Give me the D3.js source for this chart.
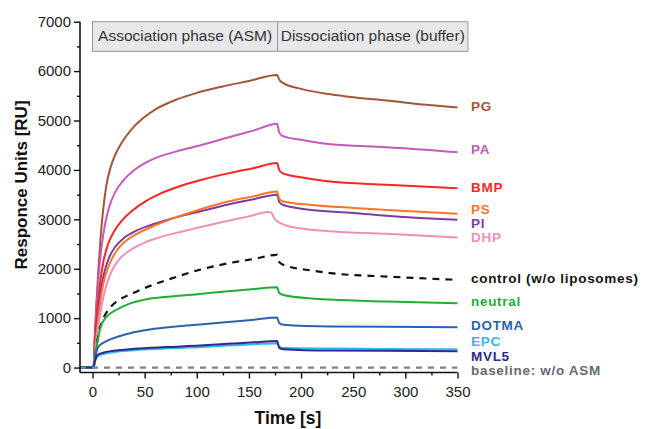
<!DOCTYPE html>
<html>
<head>
<meta charset="utf-8">
<script src="https://cdn.jsdelivr.net/npm/d3@7"></script>
<style>
  body { margin: 0; background: #fff; }
  text { font-family: "Liberation Sans", Arial, sans-serif; }
</style>
</head>
<body>
<svg id="chart" width="647" height="429"></svg>
<script>
// time [s], response [RU]
const pg      = [[-12,0],[1,0],[2,550],[4,1400],[6,2100],[8,2700],[10,3150],[13,3650],[17,4030],[22,4320],[28,4550],[40,4880],[60,5220],[80,5420],[100,5560],[125,5690],[150,5800],[177,5920],[179,5830],[183,5757],[200,5640],[228,5530],[250,5470],[282,5405],[320,5320],[350,5265]];
const pa      = [[-12,0],[1,0],[2,500],[4,1300],[6.5,2000],[9,2500],[12,2900],[16,3250],[22,3560],[30,3800],[42,4030],[58,4220],[80,4370],[103,4494],[130,4655],[155,4800],[177,4933],[179,4760],[182,4690],[200,4610],[228,4520],[282,4461],[350,4360]];
const bmp     = [[-12,0],[1,0],[2,400],[3,750],[5,1250],[7.5,1750],[10.5,2150],[15,2500],[20,2730],[28,2970],[39,3190],[52,3380],[65,3520],[85,3680],[103,3790],[130,3930],[155,4040],[177,4140],[179,4000],[182,3935],[200,3850],[225,3770],[282,3700],[350,3631]];
const pi      = [[-12,0],[1,0],[2,300],[4,800],[6.5,1300],[9,1700],[12,1980],[16,2230],[22,2450],[30,2620],[42,2770],[58,2900],[80,3040],[103,3160],[130,3300],[155,3410],[177,3500],[179,3350],[183,3290],[210,3190],[250,3130],[282,3071],[350,2990]];
const ps      = [[-12,0],[1,0],[2,250],[4,700],[6.5,1170],[9,1550],[12,1840],[16,2080],[22,2330],[30,2530],[42,2700],[58,2860],[80,3040],[103,3200],[130,3360],[155,3470],[177,3565],[179,3420],[183,3360],[210,3290],[250,3230],[282,3190],[350,3111]];
const dhp     = [[-12,0],[1,0],[2,200],[4,550],[6,900],[8,1170],[11,1480],[15,1780],[20,2020],[26,2200],[35,2360],[49,2520],[65,2640],[85,2750],[105,2850],[130,2970],[150,3060],[168,3150],[171,3140],[175,3000],[178,2950],[185,2880],[200,2815],[228,2760],[282,2706],[350,2632]];
const control = [[-12,0],[1,0],[2,150],[4,450],[6,700],[9,920],[13,1100],[18,1240],[25,1360],[39,1510],[60,1690],[81,1840],[103,1980],[130,2110],[155,2200],[177,2280],[179,2140],[183,2080],[210,1964],[228,1911],[282,1842],[350,1775]];
const neutral = [[-12,0],[1,0],[2,150],[3,300],[4.6,494],[6,660],[8,830],[11,960],[15,1060],[23,1170],[35,1290],[49,1370],[75,1440],[103,1490],[130,1545],[155,1590],[177,1627],[179,1510],[183,1470],[210,1400],[228,1375],[282,1336],[350,1303]];
const dotma   = [[-12,0],[1,0],[2,120],[3,250],[5,400],[8,470],[12,520],[17,570],[25,630],[36,696],[55,770],[80,830],[103,870],[130,920],[155,970],[177,1012],[179,900],[183,864],[228,830],[282,825],[350,818]];
const epc     = [[-12,0],[1,0],[2,100],[3,160],[5,230],[10,270],[20,310],[40,350],[70,385],[103,413],[130,445],[155,470],[177,494],[179,420],[183,395],[228,385],[282,378],[350,372]];
const mvl5    = [[-12,0],[1,0],[2,110],[3,180],[5,257],[10,300],[20,340],[40,380],[70,415],[103,445],[130,480],[155,510],[177,540],[179,400],[183,372],[228,344],[282,338],[350,332]];
const baseline = [[-12,0],[350,0]];

const series = [
  {name:"PG", data:pg, color:"#a3553a", label:"#a3553a", ly:111},
  {name:"PA", data:pa, color:"#c858b9", label:"#c858b9", ly:154},
  {name:"BMP", data:bmp, color:"#ff2424", label:"#ff2424", ly:191.5},
  {name:"PI", data:pi, color:"#7a3d9c", label:"#7a3d9c", ly:227.5},
  {name:"PS", data:ps, color:"#ff7424", label:"#ff7424", ly:213.5},
  {name:"DHP", data:dhp, color:"#f08fbb", label:"#f08fbb", ly:242},
  {name:"control (w/o liposomes)", data:control, color:"#111", label:"#111", ly:283, dash:"7,6"},
  {name:"neutral", data:neutral, color:"#1eae35", label:"#1eae35", ly:306},
  {name:"DOTMA", data:dotma, color:"#2c62ad", label:"#2c62ad", ly:330},
  {name:"EPC", data:epc, color:"#35b6ea", label:"#35b6ea", ly:346},
  {name:"MVL5", data:mvl5, color:"#2d2a8c", label:"#2d2a8c", ly:361},
  {name:"baseline: w/o ASM", data:baseline, color:"#80858a", label:"#636a70", ly:375, dash:"6,6"}
];
const xTicks = [0,50,100,150,200,250,300,350];
const yTicks = [0,1000,2000,3000,4000,5000,6000,7000];
const phases = [["Association phase (ASM)",0,177.5],["Dissociation phase (buffer)",177.5,360]];

let svg = d3.select("#chart");
let x = d3.scaleLinear().domain([-12,350]).range([80,457.5]);
let y = d3.scaleLinear().domain([-100,7000]).range([372.5,21.7]);

// phase boxes
let ph = svg.selectAll("g.phase").data(phases).enter().append("g").attr("class","phase");
ph.append("rect")
  .attr("x", d => x(d[1])).attr("y", y(7000))
  .attr("width", d => x(d[2]) - x(d[1])).attr("height", y(6400) - y(7000))
  .attr("fill","#e8e8ea").attr("stroke","#9a9a9a").attr("stroke-width",1);
ph.append("text")
  .attr("x", d => (x(d[1]) + x(d[2])) / 2).attr("y", 40.5)
  .attr("text-anchor","middle").attr("font-size","15.5px").attr("fill","#333")
  .text(d => d[0]);

// curves
let line = d3.line().x(d => x(d[0])).y(d => y(d[1])).curve(d3.curveMonotoneX);
svg.selectAll("path.curve").data(series).enter().append("path")
  .attr("class","curve")
  .attr("d", d => line(d.data))
  .attr("fill","none")
  .attr("stroke", d => d.color)
  .attr("stroke-width", d => d.dash ? 2.2 : 2)
  .attr("stroke-dasharray", d => d.dash || null);

// labels
svg.selectAll("text.lab").data(series).enter().append("text")
  .attr("class","lab")
  .attr("x", 471).attr("y", d => d.ly)
  .attr("font-size","13.5px").attr("font-weight","bold").attr("letter-spacing","0.7px")
  .attr("fill", d => d.label)
  .text(d => d.name);

// axes
let yAxis = svg.append("g").attr("transform","translate(80,0)")
  .call(d3.axisLeft(y).tickValues(yTicks).tickSize(6).tickPadding(3).tickFormat(d3.format("d")));
svg.append("g").attr("transform","translate(80,0)")
  .call(d3.axisLeft(y).tickValues(d3.range(500,7000,1000)).tickSize(3).tickFormat(""))
  .call(g => g.select(".domain").remove());
let xAxis = svg.append("g").attr("transform","translate(0,372.5)")
  .call(d3.axisBottom(x).tickValues(xTicks).tickSize(6).tickPadding(8).tickFormat(d3.format("d")));
svg.append("g").attr("transform","translate(0,372.5)")
  .call(d3.axisBottom(x).tickValues(d3.range(25,350,50)).tickSize(3).tickFormat(""))
  .call(g => g.select(".domain").remove());

svg.selectAll(".tick line").attr("stroke","#111").attr("stroke-width",1.4);
svg.selectAll(".domain").attr("stroke","#111").attr("stroke-width",1.6);
yAxis.select(".domain").attr("d", `M0,${y(7000)}V372.5`);
xAxis.select(".domain").attr("d", `M80,0H${x(350)}`);
svg.selectAll(".tick text").attr("font-size","15px").attr("fill","#222")
  .attr("font-family","Liberation Sans, Arial, sans-serif");

// axis titles
svg.append("text")
  .attr("transform","translate(27,185) rotate(-90)")
  .attr("text-anchor","middle").attr("font-size","17px").attr("font-weight","bold").attr("fill","#111")
  .text("Responce Units [RU]");
svg.append("text")
  .attr("x", 288).attr("y", 424)
  .attr("text-anchor","middle").attr("font-size","17.5px").attr("font-weight","bold").attr("fill","#111")
  .text("Time [s]");
</script>
</body>
</html>
